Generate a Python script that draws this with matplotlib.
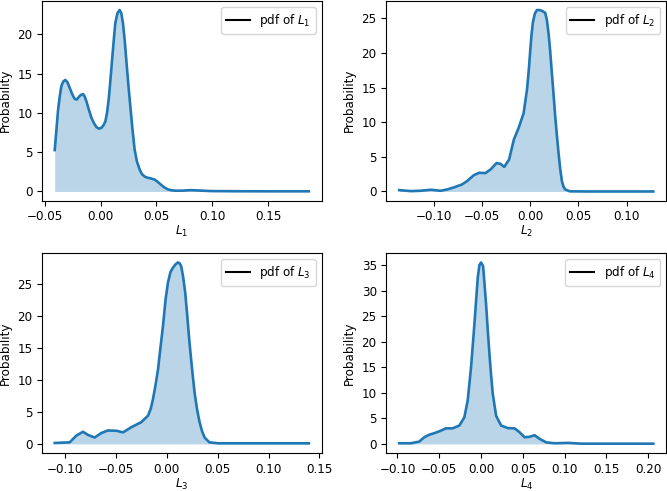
import numpy as np
import matplotlib.pyplot as plt

plt.rcParams['font.size'] = 8.6

# pdf of L1
l1_x = [-0.0411, -0.0395, -0.0381, -0.0365, -0.0352, -0.0335, -0.0316, -0.0297, -0.0277, -0.0255,
        -0.0233, -0.0215, -0.0197, -0.0177, -0.0157, -0.0143, -0.0128, -0.0105, -0.0083, -0.0060,
        -0.0038, -0.0016, 0.0006, 0.0024, 0.0042, 0.0057, 0.0072, 0.0087, 0.0102, 0.0117,
        0.0131, 0.0150, 0.0170, 0.0185, 0.0200, 0.0215, 0.0230, 0.0248, 0.0266, 0.0285,
        0.0304, 0.0325, 0.0349, 0.0370, 0.0394, 0.0420, 0.0453, 0.0485, 0.0513, 0.0545,
        0.0572, 0.0600, 0.0632, 0.0670, 0.0720, 0.0810, 0.0880, 0.0990, 0.1200, 0.1500, 0.1864]
l1_y = [5.27, 8.0, 10.4, 12.2, 13.4, 14.0, 14.2, 13.9, 13.2, 12.4,
        11.8, 11.7, 12.0, 12.3, 12.4, 12.1, 11.5, 10.4, 9.4, 8.7,
        8.2, 8.0, 8.1, 8.4, 8.9, 10.0, 11.7, 14.1, 16.7, 19.2,
        21.4, 22.7, 23.1, 22.7, 21.4, 19.3, 16.7, 13.6, 10.8, 7.9,
        5.35, 3.8, 2.8, 2.2, 1.9, 1.75, 1.65, 1.5, 1.2, 0.8,
        0.5, 0.28, 0.16, 0.1, 0.1, 0.17, 0.12, 0.05, 0.03, 0.02, 0.02]

# pdf of L2
l2_x = [-0.136, -0.124, -0.114, -0.103, -0.093, -0.086, -0.079, -0.071, -0.0655, -0.0586,
        -0.053, -0.0466, -0.041, -0.035, -0.031, -0.027, -0.022, -0.017, -0.012, -0.0069,
        -0.0034, -0.0015, 0.0, 0.0014, 0.0028, 0.0048, 0.0069, 0.0095, 0.012, 0.0155,
        0.0172, 0.019, 0.0207, 0.0224, 0.0242, 0.0259, 0.0276, 0.0293, 0.031, 0.0328,
        0.0345, 0.0362, 0.041, 0.06, 0.09, 0.1276]
l2_y = [0.2, 0.05, 0.1, 0.25, 0.1, 0.3, 0.6, 1.0, 1.5, 2.35,
        2.7, 2.65, 3.2, 4.1, 4.0, 3.55, 4.6, 7.5, 9.2, 11.3,
        14.7, 17.6, 20.4, 22.8, 24.5, 25.7, 26.2, 26.2, 26.1, 25.8,
        24.8, 22.8, 20.2, 17.1, 13.9, 10.8, 8.1, 5.6, 3.3, 1.5,
        0.7, 0.3, 0.02, 0.0, 0.0, 0.0]

# pdf of L3
l3_x = [-0.1097, -0.095, -0.0885, -0.082, -0.077, -0.0706, -0.064, -0.0575, -0.049, -0.0427,
        -0.0346, -0.0248, -0.0182, -0.0155, -0.0133, -0.0108, -0.0084, -0.006, -0.0035, -0.001,
        0.0014, 0.0038, 0.0063, 0.0087, 0.011, 0.0127, 0.0144, 0.0163, 0.0183, 0.0204,
        0.0225, 0.025, 0.0275, 0.03, 0.0324, 0.0348, 0.0373, 0.042, 0.0504, 0.08, 0.1396]
l3_y = [0.15, 0.25, 1.3, 1.9, 1.4, 1.0, 1.7, 2.1, 2.05, 1.8,
        2.6, 3.4, 4.4, 5.5, 7.0, 9.2, 11.6, 15.0, 18.4, 22.5,
        25.2, 26.8, 27.5, 28.0, 28.3, 28.2, 27.7, 26.0, 23.6, 19.8,
        15.8, 11.7, 8.0, 5.3, 3.4, 2.0, 1.0, 0.25, 0.1, 0.1, 0.1]

# pdf of L4
l4_x = [-0.098, -0.084, -0.074, -0.068, -0.062, -0.056, -0.048, -0.042, -0.034, -0.026,
        -0.020, -0.016, -0.012, -0.008, -0.004, -0.002, 0.0, 0.0024, 0.004, 0.006,
        0.008, 0.010, 0.012, 0.014, 0.018, 0.024, 0.032, 0.040, 0.046, 0.052,
        0.058, 0.064, 0.070, 0.078, 0.088, 0.104, 0.120, 0.160, 0.206]
l4_y = [0.13, 0.13, 0.45, 1.3, 1.8, 2.1, 2.6, 3.05, 3.05, 3.6,
        5.2, 8.5, 15.0, 23.4, 32.5, 35.0, 35.5, 34.8, 31.5, 27.3,
        22.3, 17.6, 13.4, 9.8, 5.5, 3.6, 3.1, 3.05, 2.3, 1.3,
        1.4, 1.7, 1.0, 0.3, 0.13, 0.2, 0.05, 0.05, 0.05]

series = [(l1_x, l1_y, 'L_1'), (l2_x, l2_y, 'L_2'), (l3_x, l3_y, 'L_3'), (l4_x, l4_y, 'L_4')]

fig, axes = plt.subplots(2, 2, figsize=(6.67, 4.91), dpi=100)
fig.subplots_adjust(left=0.063, right=0.9985, top=0.998, bottom=0.0774,
                    wspace=0.232, hspace=0.265)

for ax, (xs, ys, name) in zip(axes.flat, series):
    ax.fill_between(xs, 0, ys, color='C0', alpha=0.3, linewidth=0)
    ax.plot(xs, ys, color='C0', linewidth=1.9)
    ax.plot([], [], color='black', label=f'pdf of ${name}$')
    ax.set_xlabel(f'${name}$', labelpad=0.5)
    ax.set_ylabel('Probability')
    ax.legend(loc='upper right')

fig.savefig('out.png', dpi=100)
